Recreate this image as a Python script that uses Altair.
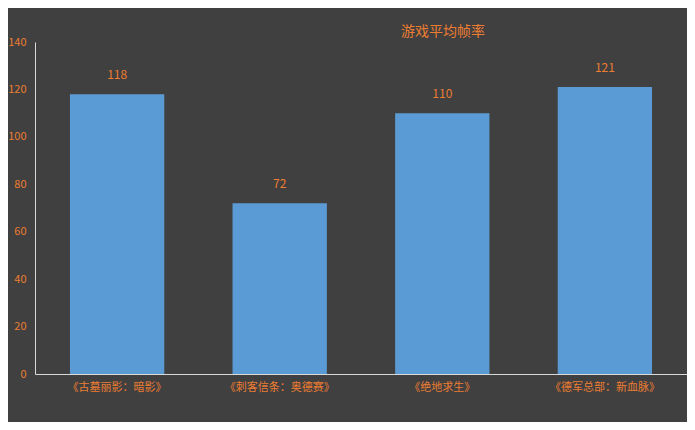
import altair as alt
import pandas as pd

games = ["《古墓丽影：暗影》", "《刺客信条：奥德赛》", "《绝地求生》", "《德军总部：新血脉》"]
fps = [118, 72, 110, 121]

df = pd.DataFrame({"game": games, "fps": fps})

orange = "#ED7D31"
font = "Noto Sans CJK SC"

base = alt.Chart(df).encode(
    x=alt.X(
        "game:N",
        sort=games,
        title=None,
        scale=alt.Scale(paddingInner=0.42, paddingOuter=0.215),
        axis=alt.Axis(labelAngle=0, labelColor=orange, labelFontSize=11, labelFont=font,
                      domainColor="#D9D9D9", ticks=False, labelPadding=7),
    ),
    y=alt.Y(
        "fps:Q",
        title=None,
        scale=alt.Scale(domain=[0, 140]),
        axis=alt.Axis(values=list(range(0, 141, 20)), labelColor=orange, labelFontSize=11,
                      labelFont=font, domainColor="#D9D9D9", ticks=False, grid=False,
                      labelPadding=9),
    ),
)

bars = base.mark_bar(color="#5B9BD5")
labels = base.mark_text(dy=-19, color=orange, fontSize=12, font=font).encode(text="fps:Q")

chart = (bars + labels).properties(
    width=652,
    height=332,
    autosize=alt.AutoSizeParams(type="none"),
    padding={"left": 27, "top": 34, "right": 0, "bottom": 48},
    background="#404040",
    title=alt.TitleParams("游戏平均帧率", color=orange, fontSize=14, font=font,
                          fontWeight="normal", dx=82, dy=7, offset=4),
).configure_view(stroke=None)

chart.save("out.html", embed_options={"renderer": "svg", "actions": False})
